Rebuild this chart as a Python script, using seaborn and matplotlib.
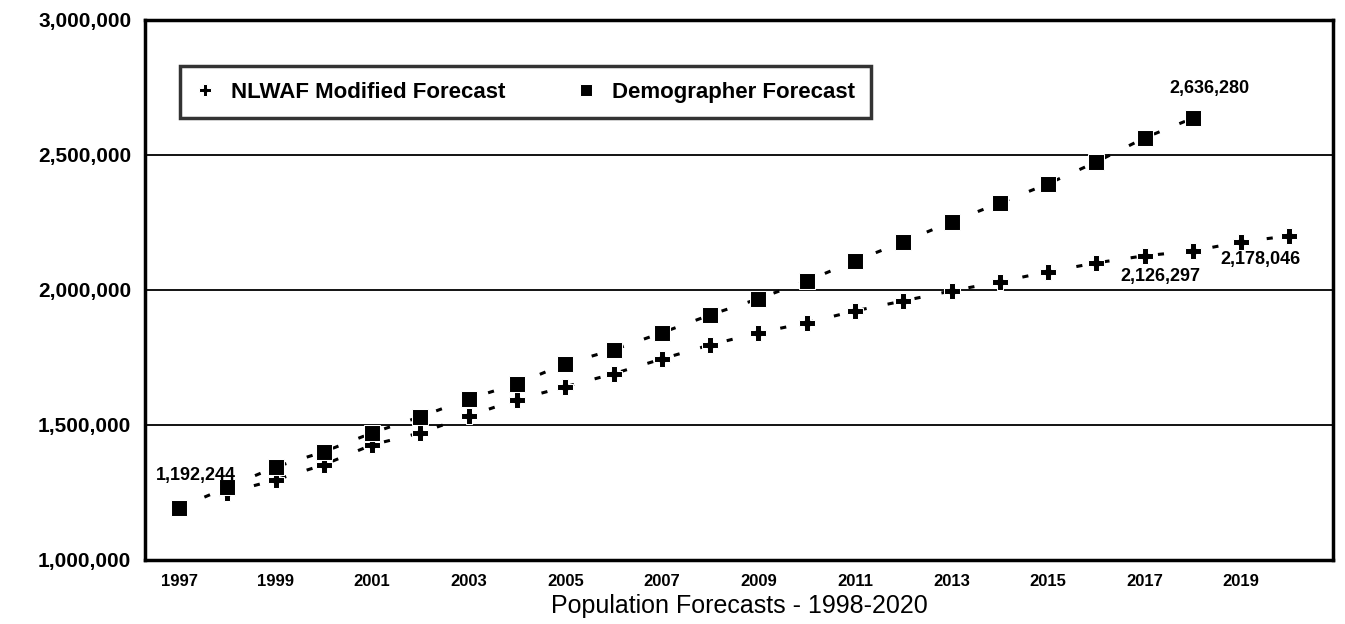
import seaborn as sns
import pandas as pd
import matplotlib.pyplot as plt

# values
demo_years = [1997, 1998, 1999, 2000, 2001, 2002, 2003, 2004, 2005, 2006, 2007,
              2008, 2009, 2010, 2011, 2012, 2013, 2014, 2015, 2016, 2017, 2018]
demo_pop = [1192244, 1268000, 1344000, 1400000, 1470000, 1530000, 1596000, 1652000,
            1726000, 1778000, 1841000, 1907000, 1967000, 2033000, 2107000, 2178000,
            2252000, 2322000, 2393000, 2474000, 2563000, 2636280]

nlwaf_years = [1998, 1999, 2000, 2001, 2002, 2003, 2004, 2005, 2006, 2007, 2008,
               2009, 2010, 2011, 2012, 2013, 2014, 2015, 2016, 2017, 2018, 2019, 2020]
nlwaf_pop = [1248000, 1296000, 1352000, 1426000, 1470000, 1533000, 1593000, 1641000,
             1689000, 1744000, 1796000, 1841000, 1878000, 1922000, 1959000, 1996000,
             2030000, 2067000, 2100000, 2126297, 2144000, 2178046, 2200000]

xtick_years = [1997, 1999, 2001, 2003, 2005, 2007, 2009, 2011, 2013, 2015, 2017, 2019]
ytick_vals = [1000000, 1500000, 2000000, 2500000, 3000000]

demo = pd.DataFrame({"year": demo_years, "pop": demo_pop})
nlwaf = pd.DataFrame({"year": nlwaf_years, "pop": nlwaf_pop})

sns.set_style("white")
plt.rcParams['font.family'] = ['Liberation Sans', 'DejaVu Sans']
plt.rcParams['text.color'] = 'black'
plt.rcParams['axes.labelcolor'] = 'black'
plt.rcParams['xtick.color'] = 'black'
plt.rcParams['ytick.color'] = 'black'

fig = plt.figure(figsize=(13.45, 6.24), dpi=100)
ax = fig.add_axes([0.108, 0.103, 0.883, 0.865])

for v in ytick_vals[1:-1]:
    ax.axhline(v, color="black", lw=1.3, zorder=0)

sns.lineplot(data=nlwaf, x="year", y="pop", ax=ax, color="black",
             marker="P", markersize=12, linestyle=(0, (2, 7)), linewidth=2.2,
             label="NLWAF Modified Forecast")
sns.lineplot(data=demo, x="year", y="pop", ax=ax, color="black",
             marker="s", markersize=11.5, linestyle=(0, (2, 7)), linewidth=2.2,
             label="Demographer Forecast")

# data labels
lab = dict(fontsize=13, fontweight="bold", ha="center")
ax.annotate(f"{demo_pop[0]:,}", (demo_years[0], demo_pop[0]), xytext=(12, 20),
            textcoords="offset points", **lab)
ax.annotate(f"{demo_pop[-1]:,}", (demo_years[-1], demo_pop[-1]), xytext=(12, 18),
            textcoords="offset points", **lab)
ax.annotate(f"{nlwaf_pop[-4]:,}", (nlwaf_years[-4], nlwaf_pop[-4]), xytext=(11, -18),
            textcoords="offset points", **lab)
ax.annotate(f"{nlwaf_pop[-2]:,}", (nlwaf_years[-2], nlwaf_pop[-2]), xytext=(14, -16),
            textcoords="offset points", **lab)

ax.set_xlim(1996.3, 2020.9)
ax.set_ylim(1000000, 3000000)
ax.set_xticks(xtick_years)
ax.set_xticklabels([str(y) for y in xtick_years], fontsize=12, fontweight="bold")
ax.set_yticks(ytick_vals)
ax.set_yticklabels([f"{v:,}" for v in ytick_vals], fontsize=15, fontweight="bold")
ax.tick_params(axis="both", length=0, pad=10)
ax.set_ylabel("")
ax.set_xlabel("Population Forecasts - 1998-2020", fontsize=18, labelpad=4)

for s in ax.spines.values():
    s.set_color("black")
    s.set_linewidth(2.5)

leg = ax.legend(loc="upper left", bbox_to_anchor=(0.02, 0.935), ncol=2,
                frameon=True, fancybox=False, edgecolor="black", fontsize=16,
                handlelength=0.8, columnspacing=3.2, borderpad=0.7,
                handletextpad=0.8)
leg.get_frame().set_linewidth(2.5)
for h in leg.legend_handles:
    h.set_linestyle("none")
    h.set_markersize(8)
for t in leg.get_texts():
    t.set_fontweight("bold")

fig.savefig("out.png", dpi=100)
